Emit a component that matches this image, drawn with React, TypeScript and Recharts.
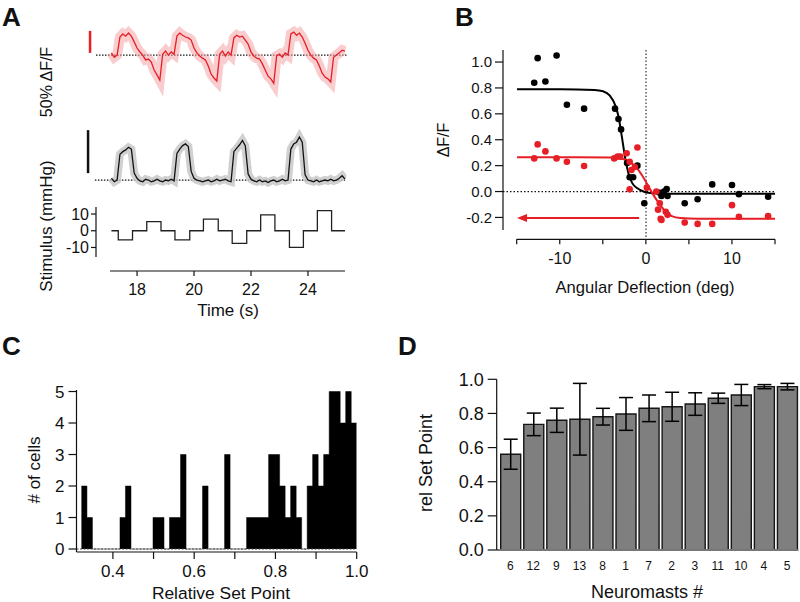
import React from 'react';
import {
  ComposedChart, Line, XAxis, YAxis, ReferenceLine, Scatter, Area, BarChart, Bar, ErrorBar,
} from 'recharts';

const FONT = '"Liberation Sans", Arial, Helvetica, sans-serif';
const W = 800;
const H = 602;
const RED = '#e61e25';

// ---------- Panel A ----------
const timeS = [17.1,17.2,17.3,17.4,17.5,17.6,17.7,17.8,17.9,18.0,18.1,18.2,18.3,18.4,18.5,18.6,18.7,18.8,18.9,19.0,19.1,19.2,19.3,19.4,19.5,19.6,19.7,19.8,19.9,20.0,20.1,20.2,20.3,20.4,20.5,20.6,20.7,20.8,20.9,21.0,21.1,21.2,21.3,21.4,21.5,21.6,21.7,21.8,21.9,22.0,22.1,22.2,22.3,22.4,22.5,22.6,22.7,22.8,22.9,23.0,23.1,23.2,23.3,23.4,23.5,23.6,23.7,23.8,23.9,24.0,24.1,24.2,24.3,24.4,24.5,24.6,24.7,24.8,24.9,25.0,25.1,25.2,25.3];
const redDFF = [5,-5,0,41,48,43,50,43,30,16, 7,0,-11,-9,-16,-34,-45,-57,2,9, 0,7,2,43,50,45,41,39,34,16, 5,-2,-7,-11,-25,-43,-52,-59,2,9, -2,7,0,39,45,41,43,34,25,7, -2,-7,-9,-20,-34,-48,-54,-64,-2,2, -5,5,0,48,52,45,50,41,27,11, 0,-7,-11,-25,-41,-50,-54,-61,-5,0, 5,11,9];
const blackDFF = [2,-2,0,30,33,35,38,36,8,2, -1,-2,1,0,-2,-1,1,-1,-2,0, -1,1,-1,31,36,40,42,39,10,2, 0,-1,-2,-1,0,-2,-1,1,-1,0, 1,-1,-2,33,37,41,46,40,7,1, -1,-2,0,-2,-1,-3,-1,0,-2,-1, 1,-1,0,36,42,44,50,44,6,0, -1,-2,0,-2,-1,0,-1,1,-1,0, 2,5,1];
const stimTimes = [17.1,17.34,17.84,18.34,18.84,19.33,19.85,20.33,20.85,21.34,21.85,22.34,22.84,23.35,23.84,24.33,24.83,25.3];
const stimLevels = [0,-5.5,0,5.5,0,-5.5,0,7,0,-7.5,0,9.5,0,-10,0,12,0,0];
const timeTicks = [18, 20, 22, 24];
const stimTicks = [-10, 0, 10];

// ---------- Panel B ----------
const blackPtX = [-12.6,-10.4,-13.0,-11.7,-9.2,-7.2,-3.6,-3.2,-2.9,-2.2,-1.0,-1.9,-1.5,-0.2,1.6,2.4,2.5,1.8,2.1,4.5,6.0,7.7,10.0,10.8,14.2];
const blackPtY = [1.03,1.05,0.84,0.85,0.67,0.64,0.64,0.56,0.48,0.22,0.20,0.11,0.11,-0.09,-0.01,0.02,-0.035,-0.035,0.0,-0.09,-0.06,0.055,0.05,-0.02,-0.04];
const redPtX = [-12.6,-11.7,-13.0,-10.4,-9.2,-7.2,-3.7,-3.3,-3.0,-2.25,-1.0,-1.9,-1.7,-1.3,-1.9,0.1,1.2,1.4,1.6,1.7,1.8,2.3,2.5,4.5,6.0,7.7,10.0,10.8,14.2];
const redPtY = [0.364,0.31,0.256,0.256,0.23,0.197,0.256,0.27,0.27,0.295,0.34,0.23,0.166,0.19,0.017,0.03,0.0,-0.14,-0.09,-0.21,-0.22,-0.156,-0.18,-0.24,-0.25,-0.25,-0.105,-0.195,-0.19];
const blackFitX = [-15,-10,-6,-5,-4.2,-3.6,-3.2,-2.8,-2.4,-2.0,-1.6,-1.0,-0.3,0.5,2,15];
const blackFitY = [0.79,0.79,0.785,0.775,0.74,0.67,0.58,0.42,0.25,0.13,0.065,0.025,0.0,-0.012,-0.017,-0.018];
const redFitX = [-15,-8,-4,-3,-2,-1.2,-0.5,0.2,0.8,1.5,2.2,3,4,6,15];
const redFitY = [0.265,0.265,0.262,0.255,0.235,0.19,0.13,0.05,-0.02,-0.09,-0.15,-0.19,-0.205,-0.21,-0.21];
const arrowLevel = -0.205;
const bYTicks = [-0.2, 0, 0.2, 0.4, 0.6, 0.8, 1.0];
const bXTicks = [-15, -10, -5, 0, 5, 10, 15];

// ---------- Panel C ----------
const binLeft = [0.3225,0.3361,0.3496,0.3632,0.3767,0.3903,0.4038,0.4174,0.4309,0.4445,0.458,0.4716,0.4851,0.4987,0.5122,0.5258,0.5393,0.5529,0.5664,0.58,0.5935,0.6071,0.6206,0.6342,0.6477,0.6613,0.6748,0.6884,0.7019,0.7155,0.729,0.7426,0.7561,0.7697,0.7832,0.7968,0.8103,0.8239,0.8374,0.851,0.8645,0.8781,0.8916,0.9052,0.9187,0.9323,0.9458,0.9594,0.9729,0.9865];
const binEnd = 1.0;
const cellCounts = [2,1,0,0,0,0,0,1,2,0, 0,0,0,1,1,0,1,1,3,0, 0,0,2,0,0,0,3,0,0,0, 1,1,1,1,3,3,2,1,2,1, 0,2,3,2,3,5,5,4,5,4];
const cXTicks = [0.4, 0.5, 0.6, 0.7, 0.8, 0.9, 1.0];
const cYTicks = [0, 1, 2, 3, 4, 5];

// ---------- Panel D ----------
const neuromasts = ['6','12','9','13','8','1','7','2','3','11','10','4','5'];
const relSetPoint = [0.561,0.736,0.760,0.766,0.781,0.797,0.830,0.839,0.855,0.889,0.908,0.957,0.957];
const relSetSem = [0.088,0.066,0.071,0.21,0.049,0.096,0.078,0.085,0.066,0.03,0.062,0.012,0.019];
const dYTicks = [0, 0.2, 0.4, 0.6, 0.8, 1.0];

const traceData = timeS.map((t, i) => ({ t, red: redDFF[i], black: blackDFF[i] }));
const stimData = stimTimes.map((t, i) => ({ t, v: stimLevels[i] }));
const blackPts = blackPtX.map((x, i) => ({ x, y: blackPtY[i] }));
const redPts = redPtX.map((x, i) => ({ x, y: redPtY[i] }));
const blackFit = blackFitX.map((x, i) => ({ x, y: blackFitY[i] }));
const redFit = redFitX.map((x, i) => ({ x, y: redFitY[i] }));
const histData = [...binLeft.map((x, i) => ({ x, n: cellCounts[i] })), { x: binEnd, n: cellCounts[cellCounts.length - 1] }];
const barData = neuromasts.map((n, i) => ({ n, v: relSetPoint[i], e: relSetSem[i] }));

const layer: React.CSSProperties = { position: 'absolute', left: 0, top: 0, width: W, height: H };
const tickStyle = (size: number) => ({ fontSize: size, fill: '#111', fontFamily: FONT });
const axisStroke = { stroke: '#111', strokeWidth: 1.2 };

const dot = (fill: string) => (p: any) => <circle cx={p.cx} cy={p.cy} r={3.3} fill={fill} />;
const arrowHead = (p: any) => (
  <polygon points={`${p.cx},${p.cy} ${p.cx + 10},${p.cy - 4} ${p.cx + 10},${p.cy + 4}`} fill={RED} />
);

export default function App() {
  return (
    <div style={{ position: 'absolute', left: 0, top: 0, width: W, height: H, background: '#fff', fontFamily: FONT }}>
      {/* A: red trace */}
      <div style={layer}>
        <ComposedChart width={W} height={H} data={traceData} margin={{ left: 87.2, right: W - 346.4, top: 15, bottom: H - 100 }}>
          <XAxis dataKey="t" type="number" domain={[16.25, 25.35]} allowDataOverflow hide />
          <YAxis type="number" domain={[-102, 91]} allowDataOverflow hide />
          <ReferenceLine segment={[{ x: 16.56, y: 0 }, { x: 25.35, y: 0 }]} stroke="#111" strokeDasharray="1.5 1.5" strokeWidth={1.3} />
          <ReferenceLine segment={[{ x: 16.35, y: 5 }, { x: 16.35, y: 55 }]} stroke={RED} strokeWidth={2.5} />
          <Line dataKey="red" type="linear" stroke="#f4a3a6" strokeOpacity={0.55} strokeWidth={10} dot={false} isAnimationActive={false} />
          <Line dataKey="red" type="linear" stroke={RED} strokeWidth={1.3} dot={false} isAnimationActive={false} />
        </ComposedChart>
      </div>
      {/* A: black trace */}
      <div style={layer}>
        <ComposedChart width={W} height={H} data={traceData} margin={{ left: 87.2, right: W - 346.4, top: 115, bottom: H - 195 }}>
          <XAxis dataKey="t" type="number" domain={[16.25, 25.35]} allowDataOverflow hide />
          <YAxis type="number" domain={[-17.4, 75.6]} allowDataOverflow hide />
          <ReferenceLine segment={[{ x: 16.52, y: 0 }, { x: 25.3, y: 0 }]} stroke="#111" strokeDasharray="1.5 1.5" strokeWidth={1.3} />
          <ReferenceLine segment={[{ x: 16.28, y: 8 }, { x: 16.28, y: 58 }]} stroke="#111" strokeWidth={2.5} />
          <Line dataKey="black" type="linear" stroke="#c4c4c4" strokeOpacity={0.8} strokeWidth={8} dot={false} isAnimationActive={false} />
          <Line dataKey="black" type="linear" stroke="#111" strokeWidth={1.3} dot={false} isAnimationActive={false} />
        </ComposedChart>
      </div>
      {/* A: stimulus */}
      <div style={layer}>
        <ComposedChart width={W} height={H} data={stimData} margin={{ left: 56, right: W - 346.4, top: 207, bottom: H - 257 }}>
          <XAxis dataKey="t" type="number" domain={[16.558, 25.35]} allowDataOverflow hide />
          <YAxis type="number" domain={[-15.7, 14.2]} allowDataOverflow width={40} ticks={stimTicks} interval={0}
            tickSize={5} tickMargin={2} tick={tickStyle(16)} axisLine={axisStroke} tickLine={axisStroke} />
          <Line dataKey="v" type="stepAfter" stroke="#222" strokeWidth={1.3} dot={false} isAnimationActive={false} />
        </ComposedChart>
      </div>
      {/* A: time axis */}
      <div style={layer}>
        <ComposedChart width={W} height={H} data={stimData} margin={{ left: 110, right: W - 345, top: 200, bottom: H - 271 - 40 }}>
          <XAxis dataKey="t" type="number" domain={[17.05, 25.3]} allowDataOverflow ticks={timeTicks} interval={0} height={40}
            tickSize={5} tickMargin={8} tick={tickStyle(16)} axisLine={axisStroke} tickLine={axisStroke} />
          <YAxis type="number" domain={[-15, 15]} hide />
          <Line dataKey="v" stroke="none" dot={false} isAnimationActive={false} />
        </ComposedChart>
      </div>

      {/* B: scatter + fits */}
      <div style={layer}>
        <ComposedChart width={W} height={H} margin={{ left: 503 - 60, right: W - 775, top: 50, bottom: H - 230 }}>
          <XAxis dataKey="x" type="number" domain={[-16.63, 15]} allowDataOverflow hide />
          <YAxis dataKey="y" type="number" domain={[-0.297, 1.093]} allowDataOverflow width={60} ticks={bYTicks} interval={0}
            tickFormatter={(v: number) => v.toFixed(1)} tickSize={8} tickMargin={3} tick={tickStyle(15)} axisLine={axisStroke} tickLine={axisStroke} />
          <ReferenceLine y={0} stroke="#111" strokeDasharray="1.5 2" strokeWidth={1.2} />
          <ReferenceLine segment={[{ x: 0, y: 1.093 }, { x: 0, y: -0.367 }]} ifOverflow="visible" stroke="#333" strokeDasharray="1.5 2" strokeWidth={1.2} />
          <ReferenceLine segment={[{ x: -0.8, y: arrowLevel }, { x: -14, y: arrowLevel }]} stroke={RED} strokeWidth={2} />
          <Scatter data={blackPts} dataKey="y" shape={dot('#000')} isAnimationActive={false} />
          <Scatter data={redPts} dataKey="y" shape={dot(RED)} isAnimationActive={false} />
          <Line data={blackFit} dataKey="y" type="monotone" stroke="#000" strokeWidth={2} dot={false} isAnimationActive={false} />
          <Line data={redFit} dataKey="y" type="monotone" stroke={RED} strokeWidth={2} dot={false} isAnimationActive={false} />
          <Scatter data={[{ x: -15, y: arrowLevel }]} dataKey="y" shape={arrowHead} isAnimationActive={false} />
        </ComposedChart>
      </div>
      {/* B: x axis */}
      <div style={layer}>
        <ComposedChart width={W} height={H} data={blackFit} margin={{ left: 516.7, right: W - 775, top: 100, bottom: H - 239.3 - 40 }}>
          <XAxis dataKey="x" type="number" domain={[-15, 15]} allowDataOverflow ticks={bXTicks} interval={0} height={40}
            tickFormatter={(v: number) => (v % 10 === 0 ? String(v) : '')} tickSize={5} tickMargin={8} tick={tickStyle(16)}
            axisLine={axisStroke} tickLine={axisStroke} />
          <YAxis dataKey="y" type="number" domain={[-1, 1]} hide />
          <Line dataKey="y" stroke="none" dot={false} isAnimationActive={false} />
        </ComposedChart>
      </div>

      {/* C: histogram */}
      <div style={layer}>
        <ComposedChart width={W} height={H} data={histData} margin={{ left: 76.5 - 50, right: W - 356.7, top: 390, bottom: H - 552 - 40 }}>
          <XAxis dataKey="x" type="number" domain={[0.3104, 1.0]} allowDataOverflow ticks={cXTicks} interval={0} height={40}
            tickFormatter={(v: number) => (Math.round(v * 10) % 2 === 0 ? v.toFixed(1) : '')} tickSize={7} tickMargin={6}
            tick={tickStyle(17)} axisLine={axisStroke} tickLine={axisStroke} />
          <YAxis type="number" domain={[-0.095, 5.048]} allowDataOverflow width={50} ticks={cYTicks} interval={0}
            tickSize={8} tickMargin={4} tick={tickStyle(17)} axisLine={axisStroke} tickLine={axisStroke} />
          <ReferenceLine y={0} stroke="#444" strokeDasharray="2 1.5" strokeWidth={1.2} />
          <Area dataKey="n" type="stepAfter" baseValue={0} fill="#000" fillOpacity={1} stroke="#000" strokeWidth={0.5} dot={false} isAnimationActive={false} />
        </ComposedChart>
      </div>

      {/* D: bars */}
      <div style={layer}>
        <BarChart width={W} height={H} data={barData} margin={{ left: 496.7 - 60, right: W - 798.5, top: 379.3, bottom: H - 550 - 30 }}>
          <XAxis dataKey="n" type="category" padding={{ left: 2, right: 0 }} height={30} tickLine={false} tickMargin={5}
            tick={tickStyle(12)} interval={0} axisLine={{ stroke: '#777', strokeWidth: 2 }} />
          <YAxis type="number" domain={[0, 1]} allowDataOverflow width={60} ticks={dYTicks} interval={0}
            tickFormatter={(v: number) => v.toFixed(1)} tickSize={9} tickMargin={4} tick={tickStyle(18)} axisLine={axisStroke} tickLine={axisStroke} />
          <Bar dataKey="v" fill="#7f7f7f" stroke="#151515" strokeWidth={1.4} barSize={20} isAnimationActive={false}>
            <ErrorBar dataKey="e" width={7} stroke="#000" strokeWidth={1.5} direction="y" />
          </Bar>
        </BarChart>
      </div>

      {/* Titles and panel letters */}
      <svg width={W} height={H} style={{ position: 'absolute', left: 0, top: 0, pointerEvents: 'none' }} fontFamily={FONT} fill="#111">
        <text x={2} y={26} fontSize={26} fontWeight="bold">A</text>
        <text x={455} y={26} fontSize={26} fontWeight="bold">B</text>
        <text x={2} y={355} fontSize={26} fontWeight="bold">C</text>
        <text x={398} y={355} fontSize={26} fontWeight="bold">D</text>

        <text x={46} y={82} fontSize={16} textAnchor="middle" dominantBaseline="central" transform="rotate(-90 46 82)">50% ΔF/F</text>
        <text x={46} y={226} fontSize={17} textAnchor="middle" dominantBaseline="central" transform="rotate(-90 46 226)">Stimulus (mmHg)</text>
        <text x={228} y={310} fontSize={17} textAnchor="middle" dominantBaseline="central">Time (s)</text>

        <text x={443} y={140} fontSize={16} textAnchor="middle" dominantBaseline="central" transform="rotate(-90 443 140)">ΔF/F</text>
        <text x={645} y={287} fontSize={16.6} textAnchor="middle" dominantBaseline="central">Angular Deflection (deg)</text>

        <text x={34} y={470} fontSize={17} textAnchor="middle" dominantBaseline="central" transform="rotate(-90 34 470)"># of cells</text>
        <text x={221} y={593} fontSize={17.4} textAnchor="middle" dominantBaseline="central">Relative Set Point</text>

        <text x={426} y={463} fontSize={18} textAnchor="middle" dominantBaseline="central" transform="rotate(-90 426 463)">rel Set Point</text>
        <text x={647} y={592} fontSize={18} textAnchor="middle" dominantBaseline="central">Neuromasts #</text>
      </svg>
    </div>
  );
}
